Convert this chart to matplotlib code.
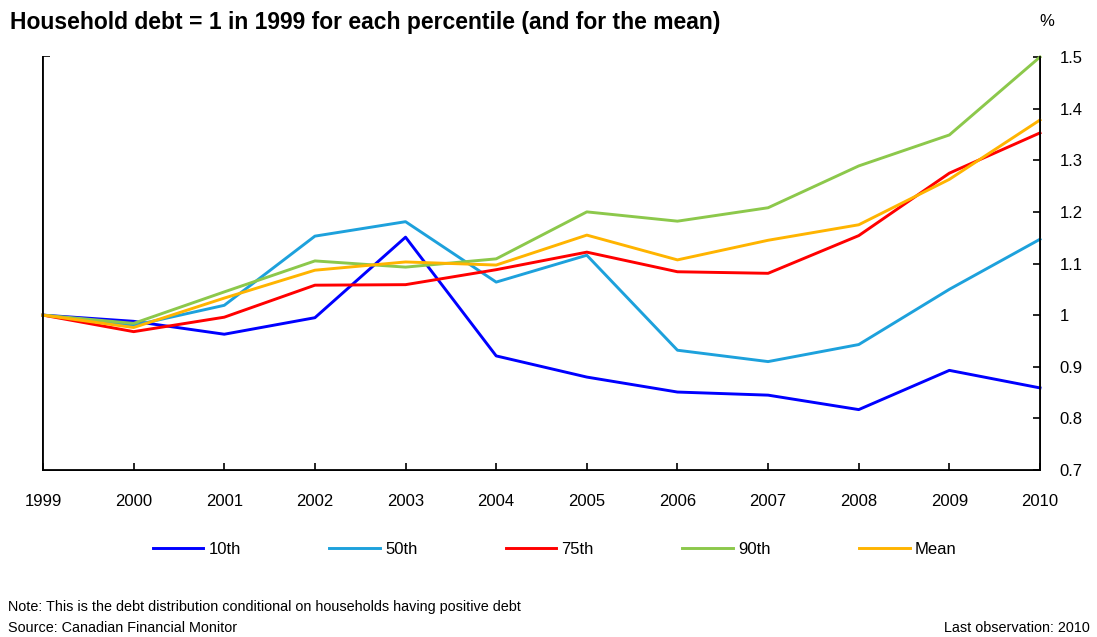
import matplotlib
matplotlib.use("Agg")
import matplotlib.pyplot as plt

years = [1999, 2000, 2001, 2002, 2003, 2004, 2005, 2006, 2007, 2008, 2009, 2010]
p10 = [1.000, 0.988, 0.963, 0.995, 1.151, 0.921, 0.880, 0.851, 0.845, 0.817, 0.893, 0.859]
p50 = [1.000, 0.980, 1.019, 1.153, 1.181, 1.064, 1.116, 0.932, 0.910, 0.943, 1.050, 1.147]
p75 = [1.000, 0.968, 0.996, 1.058, 1.059, 1.088, 1.122, 1.084, 1.081, 1.154, 1.275, 1.353]
p90 = [1.000, 0.984, 1.045, 1.105, 1.093, 1.109, 1.200, 1.182, 1.208, 1.289, 1.349, 1.500]
mean = [1.000, 0.976, 1.033, 1.087, 1.103, 1.097, 1.155, 1.107, 1.145, 1.175, 1.263, 1.378]

series_names = ["10th", "50th", "75th", "90th", "Mean"]
series_colors = ["#0000ff", "#1da1dc", "#ff0000", "#8cc84b", "#ffb400"]
right_ticks = [0.7, 0.8, 0.9, 1.0, 1.1, 1.2, 1.3, 1.4, 1.5]
right_labels = ["0.7", "0.8", "0.9", "1", "1.1", "1.2", "1.3", "1.4", "1.5"]

plt.rcParams['font.family'] = ['Liberation Sans', 'DejaVu Sans']

W, H = 1097, 637
fig = plt.figure(figsize=(W / 100, H / 100), dpi=100)
L, R, T, B = 43, 1040, 57, 470
ax = fig.add_axes([L / W, 1 - B / H, (R - L) / W, (B - T) / H])

for vals, name, col in zip([p10, p50, p75, p90, mean], series_names, series_colors):
    ax.plot(years, vals, color=col, lw=2.1, label=name, clip_on=False)

ax.set_xlim(1999, 2010)
ax.set_ylim(0.7, 1.5)

# left-side unlabeled tick axis
ax2 = ax.twinx()
ax2.set_ylim(0, 7)
ax2.set_yticks(range(8))
ax2.yaxis.tick_left()
ax2.set_yticklabels([])
ax2.tick_params(axis='y', direction='in', length=5, width=1.2)
ax2.spines['top'].set_visible(False)
ax2.set_zorder(ax.get_zorder() - 1)

ax.set_xticks(years)
ax.set_xticklabels([str(y) for y in years], fontsize=12)
ax.yaxis.tick_right()
ax.set_yticks(right_ticks)
ax.set_yticklabels(right_labels, fontsize=12)
ax.tick_params(axis='y', direction='in', length=5, width=1.2, pad=14, colors='black')
ax.tick_params(axis='x', direction='in', length=5, width=1.2, pad=17)
ax.spines['top'].set_visible(False)
for s in ['left', 'right', 'bottom']:
    ax.spines[s].set_linewidth(1.3)
    ax2.spines[s].set_linewidth(1.3)

fig.text(10 / W, 1 - 22 / H, "Household debt = 1 in 1999 for each percentile (and for the mean)",
         fontsize=16.5, fontweight='bold', ha='left', va='center')
fig.text(1047 / W, 1 - 21 / H, "%", fontsize=12, ha='center', va='center')

handles, labels = ax.get_legend_handles_labels()
fig.legend(handles, labels, loc='center', bbox_to_anchor=(554.5 / W, 1 - 549 / H), ncol=5,
           frameon=False, fontsize=12, handlelength=3.05, handletextpad=0.3,
           columnspacing=5.3, borderpad=0, borderaxespad=0)

fig.text(8 / W, 1 - 607 / H, "Note: This is the debt distribution conditional on households having positive debt",
         fontsize=10.4, ha='left', va='center')
fig.text(8 / W, 1 - 628 / H, "Source: Canadian Financial Monitor", fontsize=10.4, ha='left', va='center')
fig.text(1090 / W, 1 - 628 / H, "Last observation: 2010", fontsize=10.4, ha='right', va='center')

fig.savefig("out.png", dpi=100)
